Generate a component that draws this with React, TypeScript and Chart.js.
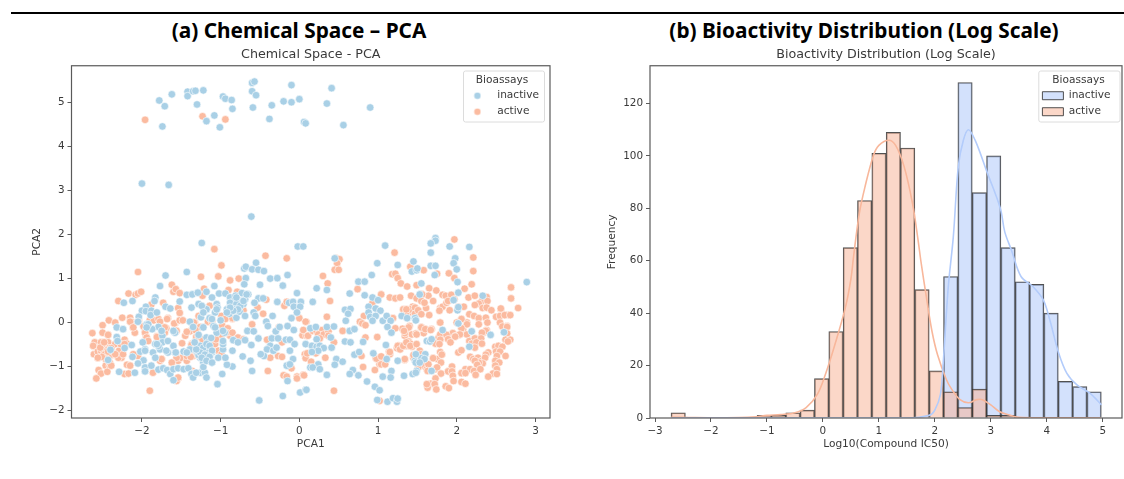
import React, { useEffect, useRef } from "react";
import { Chart, registerables } from "chart.js";

Chart.register(...registerables);

const seriesNames = ["inactive", "active"];

// PCA scatter: [PCA1, PCA2]
const inactiveTop: [number, number][] = [
  [-1.78,5.05],[-1.71,4.92],[-1.62,5.19],[-1.74,4.46],[-1.42,5.25],[-1.42,5.15],[-1.35,5.26],[-1.32,5.27],[-1.22,5.28],[-1.30,4.96],
  [-1.18,4.58],[-1.08,4.71],[-1.01,4.44],[-0.97,5.14],[-0.94,5.09],[-0.86,5.06],[-0.85,4.86],[-0.59,4.89],[-0.60,5.26],[-0.60,5.45],
  [-0.57,5.48],[-0.55,5.17],[-0.38,4.63],[-0.35,4.94],[-0.20,5.03],[-0.10,5.40],[-0.10,5.01],[0.0,5.08],[0.06,4.56],[0.08,4.53],
  [0.35,4.98],[0.41,5.33],[0.56,4.49],[0.90,4.89],[-2.0,3.16],[-1.66,3.13],[-0.61,2.41],
];
const inactiveLeft: [number, number][] = [
  [-1.70,1.07],[-1.43,1.15],[-1.77,0.83],[-2.23,0.45],[-2.12,0.49],[-1.83,0.57],[-1.84,0.49],[-1.52,0.48],[-1.43,0.63],[-1.36,0.64],
  [-1.95,0.36],[-2.0,0.27],[-1.95,0.26],[-1.88,0.27],[-1.89,0.17],[-1.81,0.23],[-1.70,0.36],[-1.64,0.32],[-2.04,0.13],[-2.05,0.02],
  [-2.32,-0.11],[-2.24,-0.15],[-2.32,-0.33],[-2.31,-0.42],[-1.94,-0.04],[-1.79,-0.10],[-1.87,-0.15],[-1.58,-0.23],[-1.39,0.02],[-1.35,-0.10],
  [-2.13,-0.51],[-1.99,-0.45],[-1.74,-0.30],[-1.83,-0.49],[-1.74,-0.45],[-1.67,-0.42],[-1.60,-0.53],[-1.96,-0.61],[-2.02,-0.66],[-1.86,-0.68],
  [-1.77,-0.61],[-1.67,-0.68],[-1.58,-0.68],[-1.47,-0.66],[-1.39,-0.61],[-2.22,-0.58],[-2.12,-0.78],[-1.98,-0.86],[-1.83,-0.80],[-2.05,-0.93],
  [-1.96,-1.02],[-1.96,-1.11],[-1.88,-0.98],[-1.79,-1.07],[-1.73,-1.04],[-1.68,-1.08],[-1.64,-1.17],[-1.60,-1.06],[-1.54,-1.04],[-1.47,-1.06],
  [-1.41,-1.04],[-1.60,-1.31],[-2.29,-1.12],[-2.09,-1.14],[-1.37,-1.17],[-2.43,-0.85],[-2.40,-0.62],
];
const inactiveMiddle: [number, number][] = [
  [-1.24,1.81],[-0.02,1.73],[0.05,1.73],[-0.55,1.36],[-0.70,1.23],[-0.68,1.27],[-0.60,1.21],[-0.52,1.20],[-0.45,1.17],[-0.15,1.08],
  [-0.37,1.0],[-0.28,1.01],[-0.68,1.01],[-0.50,0.86],[-0.21,0.84],[-0.03,0.67],[-1.08,0.83],[-0.70,0.87],[-1.29,0.68],[-1.18,0.70],
  [-1.11,0.57],[-1.02,0.66],[-0.94,0.66],[-0.88,0.57],[-0.81,0.61],[-0.73,0.67],[-0.65,0.64],[-0.83,0.49],[-0.88,0.45],[-0.75,0.49],
  [-0.69,0.53],[-0.80,0.42],[-0.71,0.42],[-0.52,0.55],[-0.46,0.55],[-0.57,0.45],[-0.28,0.47],[-0.13,0.45],[-0.08,0.47],[0.02,0.47],
  [-0.07,0.36],[0.01,0.36],[-0.03,0.23],[-1.28,0.42],[-1.37,0.34],[-1.22,0.34],[-1.18,0.29],[-1.07,0.23],[-1.05,0.42],[-1.04,0.34],
  [-0.92,0.30],[-0.89,0.20],[-0.82,0.30],[-0.80,0.11],[-0.76,0.25],[-0.69,0.15],[-0.58,0.23],[-0.56,0.15],[-0.34,0.15],[-0.10,0.10],
  [-0.42,0.02],[-0.40,-0.08],[-0.30,-0.20],[-0.25,-0.10],[-0.15,-0.08],[-0.07,-0.17],[-0.66,-0.19],[-0.58,-0.20],[-0.52,-0.36],[-0.35,-0.36],
  [-0.27,-0.36],[-0.17,-0.39],[-0.12,-0.39],[-0.06,-0.49],[-0.61,-0.51],[-0.84,-0.40],[-0.78,-0.45],[-0.69,-0.40],[-0.37,-0.53],[-0.41,-0.61],
  [-0.33,-0.64],[-0.45,-0.76],[-0.49,-0.72],[-0.29,-0.57],[-0.12,-0.64],[-0.85,-0.64],[-0.72,-0.77],[-0.62,-0.87],[-0.08,-0.83],[-0.16,-0.98],
  [-0.12,-0.95],[-0.60,-1.10],[-0.85,-1.0],[-0.92,-0.96],[-0.98,-1.17],[-1.04,-1.40],[-0.51,-1.77],[-0.21,-1.67],[0.01,-1.59],[0.08,-1.53],
  [-0.15,-1.33],[-1.26,-0.57],[-1.20,-0.57],[-1.16,-0.57],[-1.31,-0.64],[-1.24,-0.68],[-1.18,-0.68],[-1.11,-0.68],[-1.26,-0.80],[-1.20,-0.80],
  [-1.14,-0.76],[-1.28,-0.74],[-1.22,-0.91],[-1.11,-0.91],[-1.03,-0.80],[-0.94,-0.80],[-0.97,-0.61],[-0.97,-0.49],[-1.05,-0.23],[-1.09,-0.08],
  [-1.18,-0.34],[-1.35,-1.25],[-1.26,-1.14],[-1.20,-1.14],[-1.18,-1.25],[-1.22,-1.01],[-1.31,-1.14],[-1.16,-0.45],[-1.12,-0.35],[-1.28,-0.28],
  [-1.00,0.05],[-1.14,0.10],[-1.25,0.12],[-0.95,-0.23],
];
const inactiveDense: [number, number][] = [
  [-1.26,-0.53],[-1.22,-0.57],[-1.18,-0.49],[-1.14,-0.53],[-1.11,-0.64],[-1.26,-0.68],[-1.20,-0.73],[-1.14,-0.78],[-1.24,-0.80],[-1.18,-0.87],
  [-1.11,-0.91],[-1.31,-0.61],[-1.33,-0.45],[-1.43,-0.68],[-1.57,-0.68],[-1.69,-0.64],[-1.79,-0.53],[-1.92,-0.04],[-1.94,-0.11],[-1.96,-0.64],
  [-1.81,-0.49],[-1.75,-0.19],[-1.60,-0.19],[-0.75,0.38],[-0.78,0.30],[-0.84,0.27],[-0.88,0.34],[-0.71,0.49],[-0.80,0.57],[-0.67,0.64],
  [-0.92,0.23],[-1.05,0.30],[-1.18,0.30],[-1.24,0.38],[-1.22,0.23],[-1.11,0.08],[-0.97,-0.19],[-0.97,-0.42],[-1.07,-0.11],[-1.22,-0.11],
];
const inactiveRight: [number, number][] = [
  [1.09,1.75],[0.45,1.46],[0.99,1.35],[1.25,1.31],[1.45,1.39],[1.43,1.16],[1.49,1.19],[0.92,1.08],[0.75,0.93],[0.83,0.93],
  [0.22,0.78],[0.35,0.74],[0.64,0.66],[0.83,0.62],[0.17,0.47],[0.93,0.57],[1.0,0.51],[0.58,0.29],[0.65,0.31],[0.62,0.20],
  [0.88,0.36],[0.97,0.32],[1.03,0.27],[0.88,0.23],[0.90,0.13],[0.97,0.15],[0.59,0.04],[0.93,0.04],[1.06,0.04],[1.11,0.15],
  [1.16,0.04],[1.12,-0.10],[1.17,-0.23],[1.30,0.15],[1.37,0.10],[1.47,0.10],[0.64,-0.19],[0.70,-0.15],[0.14,-0.13],[0.21,-0.10],
  [0.35,-0.10],[0.44,-0.09],[0.40,-0.34],[0.22,-0.38],[0.58,-0.43],[0.65,-0.45],[0.81,-0.44],[0.08,-0.49],[0.16,-0.53],[0.22,-0.55],
  [0.26,-0.53],[0.31,-0.58],[0.41,-0.57],[0.24,-0.64],[0.16,-0.67],[0.70,-0.73],[0.76,-0.67],[0.94,-0.70],[1.10,-0.51],[0.47,-0.83],
  [0.55,-0.89],[0.45,-0.96],[0.24,-0.95],[0.14,-1.02],[0.17,-1.02],[0.26,-1.06],[0.35,-1.19],[0.68,-1.08],[0.64,-1.17],[0.75,-1.20],
  [0.86,-1.34],[1.06,-1.23],[1.17,-1.10],[1.16,-1.25],[0.96,-1.46],[1.02,-1.54],[0.09,-1.53],[0.99,-1.76],[1.12,-1.80],[1.19,-1.72],
  [1.24,-1.80],[1.25,-1.73],[1.11,-0.83],[1.25,-0.87],[1.33,-1.21],[1.47,-0.87],[1.44,-1.17],[1.49,-1.10],
  [1.73,1.92],[1.73,1.86],[1.67,1.80],[1.67,1.59],[1.91,1.73],[2.16,1.72],[1.98,1.46],[1.96,1.35],[2.0,1.21],[1.67,1.29],
  [1.73,1.29],[1.72,1.08],[1.50,1.23],[2.01,0.92],[2.89,0.92],[1.55,0.89],[1.53,0.64],[2.02,0.68],[1.96,0.51],[2.33,0.61],
  [2.01,0.28],[2.02,0.35],[1.48,0.05],[2.02,-0.02],[1.82,-0.17],[2.19,-0.20],[2.43,-0.28],[2.60,-0.22],[1.62,-0.42],[1.66,-0.43],
  [1.68,-0.38],[2.16,-0.55],[1.60,-0.72],[1.55,-0.81],[1.59,-0.83],[1.48,-0.91],[1.53,-0.91],[1.68,-1.10],[1.48,-1.14],[1.48,-0.72],
];
const activeTop: [number, number][] = [[-1.96,4.61],[-1.23,4.69],[-0.94,4.62]];
const activeLeft: [number, number][] = [
  [-2.05,1.15],[-2.17,0.66],[-2.08,0.63],[-2.05,0.66],[-2.01,0.70],[-2.30,0.49],[-1.62,0.86],[-1.60,0.70],[-1.57,0.76],[-1.52,0.67],
  [-1.88,0.41],[-1.73,0.45],[-1.54,0.33],[-1.52,0.22],[-2.25,0.11],[-2.15,0.11],[-2.42,0.05],[-2.34,0.0],[-2.50,-0.06],[-2.13,0.02],
  [-2.04,0.04],[-1.90,0.06],[-1.85,0.05],[-1.79,0.08],[-1.77,0.02],[-1.67,0.10],[-1.58,-0.02],[-1.50,0.05],[-2.63,-0.24],[-2.43,-0.27],
  [-2.50,-0.23],[-2.11,-0.12],[-1.98,-0.09],[-1.96,-0.20],[-2.09,-0.23],[-1.95,-0.30],[-1.81,-0.31],[-1.69,-0.13],[-1.71,-0.23],[-1.45,-0.30],
  [-1.39,-0.20],[-1.49,-0.47],[-2.22,-0.39],[-2.19,-0.48],[-2.60,-0.45],[-2.62,-0.53],[-2.52,-0.45],[-2.43,-0.45],[-2.34,-0.49],[-2.47,-0.55],
  [-2.42,-0.58],[-2.61,-0.72],[-2.56,-0.66],[-2.52,-0.64],[-2.48,-0.66],[-2.44,-0.63],[-2.39,-0.64],[-2.35,-0.73],[-2.29,-0.64],[-2.26,-0.80],
  [-2.56,-0.81],[-2.49,-0.78],[-2.41,-0.76],[-2.30,-0.80],[-2.19,-0.96],[-2.15,-0.98],[-2.46,-0.98],[-2.41,-0.98],[-2.55,-1.08],[-2.52,-1.16],
  [-2.44,-1.12],[-2.58,-1.27],[-2.22,-1.17],[-2.17,-1.16],[-1.90,-1.55],[-1.86,-1.14],[-2.05,-0.76],[-2.11,-0.72],[-1.75,-0.83],[-1.77,-0.87],
  [-1.62,-0.92],[-1.54,-0.87],[-1.50,-0.80],[-1.54,-1.27],[-1.56,-1.33],[-1.36,-1.10],[-1.37,-0.49],[-1.35,-0.76],[-1.43,-0.87],
];
const activeDense: [number, number][] = [
  [-2.47,-0.72],[-2.43,-0.66],[-2.39,-0.58],[-2.34,-0.72],[-2.46,-0.83],[-2.41,-0.91],[-2.39,-0.98],[-2.51,-0.78],[-2.56,-0.80],[-2.53,-0.57],
  [-2.48,-0.45],[-2.43,-0.28],[-2.24,-0.72],[-2.27,-0.49],[-2.22,-0.49],[-2.15,0.02],[-2.11,-0.11],[-1.96,-0.23],[-1.94,-0.34],[-1.92,-0.42],
  [-1.81,-0.33],[-1.71,-0.11],[-1.68,0.08],[-1.59,-0.02],[-1.52,0.05],[-1.48,0.05],[-1.56,-0.19],[-1.43,-0.21],[-1.36,-0.49],[-1.33,0.0],
  [-1.28,0.15],[-1.16,0.02],[-1.31,-0.33],[-1.22,-0.42],[-1.56,-0.80],[-1.43,-0.76],[-1.35,-0.68],[-1.75,-0.83],[-1.62,-0.91],[-1.54,-1.25],
  [-1.36,-1.15],[-1.07,-0.49],[-0.88,-0.30],[-0.99,-0.30],[-0.85,0.08],
  [1.32,0.30],[1.44,0.36],[1.51,0.28],[1.40,0.23],[1.34,-0.15],[1.31,-0.14],[1.40,-0.08],[1.36,-0.23],[1.34,-0.30],[1.43,-0.27],
  [1.48,-0.25],[1.58,-0.24],[1.55,-0.11],[1.68,-0.15],[1.39,-0.43],[1.26,-0.52],[1.29,-0.57],[1.32,-0.53],[1.36,-0.53],[1.41,-0.48],
  [1.43,-0.55],[1.24,-0.58],[1.14,-0.66],[1.15,-0.72],[1.03,-0.80],[0.97,-0.80],[1.02,-0.95],[1.08,-0.95],[1.10,-0.87],[1.34,-0.85],
  [1.45,-0.80],[1.58,-0.98],[1.62,-1.06],[1.73,-1.06],[1.81,-0.72],[1.70,-0.80],[1.75,-0.83],[1.74,-0.45],[1.79,0.0],[1.77,-0.34],
  [1.85,-0.28],[1.95,-0.24],[1.98,-0.31],[2.03,-0.28],[2.06,0.08],[2.13,0.0],[2.08,-0.15],[2.17,-0.42],[2.23,-0.38],[2.30,-0.36],
  [2.34,-0.23],[2.38,-0.17],[2.51,0.13],[2.61,0.17],[2.66,0.17],[2.56,0.30],[2.59,-0.10],[2.64,-0.08],
];
const activeMiddle: [number, number][] = [
  [-1.08,1.67],[-0.43,1.52],[-0.16,1.46],[-0.99,1.30],[-1.25,1.04],[-1.03,1.05],[-0.88,0.96],[-0.77,1.0],[-1.21,0.77],[-0.90,0.74],
  [-0.79,0.70],[-1.23,0.61],[-1.14,0.38],[-0.42,0.52],[-0.53,0.34],[-0.46,0.20],[-0.19,0.38],[-0.16,0.47],[0.0,0.10],[0.09,0.02],
  [-0.99,0.15],[-0.94,0.08],[-0.85,0.10],[-0.71,0.28],[-0.60,-0.04],[-1.16,0.02],[-1.11,0.02],[-1.34,0.0],[-1.26,-0.10],[-1.32,-0.17],
  [-0.98,-0.07],[-0.91,-0.13],[-0.93,-0.23],[-0.85,-0.23],[-0.99,-0.30],[-1.06,-0.38],[-0.78,-0.34],[-0.71,-0.38],[-1.28,-0.32],[-1.23,-0.39],
  [-1.37,-0.51],[-1.35,-0.63],[-1.38,-0.78],[-1.03,-0.64],[-0.99,-0.72],[-0.41,-0.39],[-0.26,-0.11],[-0.22,-0.45],[-0.37,-0.80],[-0.27,-0.76],
  [-0.22,-0.78],[-0.40,-1.10],[-0.10,-1.04],[-0.20,-1.20],[-0.16,-1.23],[-0.03,-1.23],[-0.03,-1.27],[0.05,-1.19],[-1.36,-1.15],[0.04,-0.29],
  [0.09,-0.30],[0.07,-0.72],[0.08,-0.81],
];
const activeRight: [number, number][] = [
  [1.21,1.59],[0.47,1.46],[0.51,1.44],[0.48,1.35],[0.45,1.20],[0.50,1.20],[0.30,1.06],[0.36,0.89],[0.39,0.49],[0.74,0.76],
  [1.04,0.64],[1.18,1.10],[1.22,1.11],[1.25,1.01],[1.29,0.89],[1.37,0.82],[1.41,1.27],[1.49,0.85],[0.93,0.45],[1.15,0.57],
  [1.22,0.55],[1.28,0.57],[1.42,0.61],[1.49,0.55],[0.82,0.15],[0.77,0.02],[0.80,-0.02],[0.84,-0.06],[0.35,0.13],[0.08,0.02],
  [0.05,-0.17],[0.11,-0.30],[0.17,-0.19],[0.22,-0.20],[0.29,-0.17],[0.24,-0.27],[0.31,-0.27],[0.37,-0.20],[0.37,-0.30],[0.26,-0.36],
  [0.44,-0.45],[0.55,-0.19],[0.84,-0.34],[0.99,-0.33],[0.10,-0.70],[0.21,-0.70],[0.33,-0.80],[0.15,-0.89],[0.06,-1.20],[0.44,-1.55],
  [0.79,-0.76],[0.81,-1.01],[0.96,-1.08],[0.98,-0.82],[1.04,-0.77],[1.04,-0.95],[1.09,-0.95],[1.15,-0.67],[1.34,-0.83],[1.45,-0.74],
  [1.22,-0.13],[1.19,0.10],[1.25,-0.53],[1.28,-0.61],[1.32,-0.53],[1.36,-0.45],[1.41,-0.53],[1.49,-0.49],[1.34,-0.24],[1.39,-0.11],
  [1.33,-0.19],[1.36,0.23],[1.41,0.30],[1.47,0.34],[1.36,0.30],[1.47,0.20],[1.02,-1.78],
  [1.97,1.89],[2.21,1.48],[2.21,1.17],[1.58,1.19],[1.75,1.11],[1.90,1.12],[1.97,1.01],[2.19,0.87],[2.10,0.77],[2.69,0.80],
  [2.69,0.55],[2.78,0.33],[1.65,0.78],[1.74,0.73],[1.64,0.61],[1.56,0.64],[1.82,0.63],[1.86,0.61],[1.93,0.63],[1.55,0.49],
  [1.70,0.49],[1.61,0.33],[1.59,0.45],[1.65,0.17],[1.51,0.28],[1.55,0.19],[2.15,0.57],[2.23,0.61],[2.38,0.58],[2.32,0.49],
  [2.39,0.49],[2.28,0.43],[2.23,0.40],[1.79,0.33],[1.82,0.36],[1.87,0.45],[1.89,0.49],[1.91,0.28],[1.97,0.53],[2.02,0.36],
  [2.09,0.36],[1.78,0.27],[2.33,0.33],[2.38,0.34],[2.44,0.28],[2.56,0.32],[2.50,0.13],[2.55,0.15],[2.61,0.17],[2.68,0.17],
  [2.16,0.19],[2.22,0.15],[2.28,0.10],[2.37,0.11],[2.39,0.0],[2.28,-0.04],[2.06,0.08],[2.0,0.0],[2.13,-0.04],[2.06,-0.13],
  [1.79,0.0],[2.55,0.0],[2.58,-0.09],[2.64,-0.10],[2.37,-0.19],[2.32,-0.23],[2.13,-0.27],[2.04,-0.27],[1.98,-0.32],[1.55,-0.11],
  [1.60,-0.15],[1.67,-0.17],[1.49,-0.27],[1.79,-0.27],[1.87,-0.28],[1.89,-0.38],[1.79,-0.39],[1.73,-0.48],[1.78,-0.49],[1.92,-0.45],
  [2.64,-0.25],[2.62,-0.39],[2.68,-0.39],[2.65,-0.43],[2.16,-0.42],[2.23,-0.36],[2.31,-0.36],[2.19,-0.48],[2.25,-0.45],[2.32,-0.48],
  [2.23,-0.57],[2.49,-0.55],[2.53,-0.53],[2.58,-0.55],[2.50,-0.66],[2.55,-0.66],[2.02,-0.68],[2.06,-0.63],[1.79,-0.67],[1.81,-0.73],
  [2.62,-0.76],[2.51,-0.76],[2.40,-0.68],[2.37,-0.73],[2.17,-0.78],[2.21,-0.83],[2.27,-0.80],[2.32,-0.87],[2.36,-0.80],[2.33,-0.93],
  [2.28,-0.91],[2.23,-0.87],[2.26,-0.96],[1.70,-0.81],[1.80,-0.91],[1.75,-1.02],[1.64,-0.95],[1.53,-0.64],[1.55,-0.72],[1.94,-1.0],
  [2.49,-0.87],[2.54,-0.91],[2.49,-0.98],[2.51,-1.06],[2.46,-1.16],[2.51,-1.17],[2.40,-1.23],[2.11,-1.06],[2.17,-1.06],[2.22,-1.10],
  [2.30,-1.06],[2.06,-1.15],[2.11,-1.15],[2.24,-1.19],[1.89,-1.11],[1.94,-1.11],[1.95,-1.21],[1.96,-1.33],[1.80,-1.16],[1.73,-1.27],
  [1.63,-1.10],[2.06,-1.35],[2.11,-1.39],[1.86,-1.45],[1.90,-1.49],[1.67,-1.39],[1.63,-1.48],[1.72,-1.40],[1.74,-1.52],[1.62,-1.40],
  [1.49,-0.87],[1.51,-1.02],
];
const inactivePCA = [...inactiveTop, ...inactiveLeft, ...inactiveMiddle, ...inactiveDense, ...inactiveRight];
const activePCA = [...activeTop, ...activeLeft, ...activeDense, ...activeMiddle, ...activeRight];

// Histogram of Log10(Compound IC50): 30 bins
const binStart = -2.714;
const binWidth = 0.2563;
const inactiveCounts = [0,0,0,0,0,0,0,0,0,0,0,0,0,0,0,0,0,0,0,54,128,86,100,65,52,51,40,14,12,10];
const activeCounts = [2,0,0,0,0,0,1,1,2,3,15,33,65,83,101,109,103,49,18,10,4,11,1,1,0,0,0,0,0,0];
const inactiveKdeX = [-2.71,1.5,1.9,2.0,2.1,2.15,2.24,2.33,2.42,2.51,2.6,2.72,2.93,3.17,3.25,3.37,3.54,3.76,3.94,4.06,4.21,4.36,4.54,4.77,4.98];
const inactiveKdeY = [0,0,1,3,9,21,50,69,96,106,110,106,94,80,71,64,54,50,45,37,25,17,12.6,9.5,5];
const activeKdeX = [-2.71,-2.4,-2,-1.5,-1.2,-1,-0.75,-0.5,-0.3,-0.1,0.05,0.2,0.4,0.5,0.55,0.65,0.75,0.9,1,1.18,1.3,1.45,1.6,1.7,1.75,1.85,1.95,2.05,2.2,2.3,2.45,2.6,2.75,2.85,3,3.15,3.35,3.5,4,4.97];
const activeKdeY = [0.3,0.2,0.1,0.2,0.5,1,1.3,2,4,9,17,27,42,53,62,78,88,100,104,106,104,96,82,68,60,46,33,24,15,11,7,5.8,7,7,5,2.5,1,0.3,0.1,0];

const pcaXTicks = [-2,-1,0,1,2,3];
const pcaYTicks = [-2,-1,0,1,2,3,4,5];
const histXTicks = [-3,-2,-1,0,1,2,3,4,5];
const histYTicks = [0,20,40,60,80,100,120];

const FONT = "'DejaVu Sans'";
const INK = "#3a3a3a";
const SPINE = "#5a5a5a";
const BLUE_DOT = "#a9d0e6";
const ORANGE_DOT = "#fbbba0";
const BLUE_FILL = "rgba(174,201,250,0.55)";
const ORANGE_FILL = "rgba(248,183,155,0.55)";
const BLUE_LINE = "#b3ccfb";
const ORANGE_LINE = "#f8b79b";
const EDGE = "rgba(50,50,50,0.85)";

const minusLabel = (v: number | string) => String(v).replace("-", "\u2212");

function dot(color: string) {
  const c = document.createElement("canvas");
  c.width = 8;
  c.height = 8;
  const g = c.getContext("2d")!;
  g.fillStyle = color;
  g.beginPath();
  g.arc(4, 4, 3.2, 0, Math.PI * 2);
  g.fill();
  return c;
}

function framePlugin(box: { left: number; top: number; right: number; bottom: number }, legendX: number, legendY: number, titleCentre: number) {
  return {
    id: "frame",
    afterLayout(chart: any) {
      const l = chart.legend;
      l.left = legendX;
      l.width = 2 * (titleCentre - legendX);
      l.right = legendX + l.width;
      l.top = legendY;
      l.bottom = legendY + l.height;
    },
    beforeDraw(chart: any) {
      const g = chart.ctx;
      g.save();
      g.strokeStyle = "#dcdcdc";
      g.lineWidth = 1;
      g.beginPath();
      g.roundRect(box.left, box.top, box.right - box.left, box.bottom - box.top, 2);
      g.stroke();
      g.restore();
    },
    afterDraw(chart: any) {
      const a = chart.chartArea;
      const g = chart.ctx;
      g.save();
      g.strokeStyle = SPINE;
      g.lineWidth = 1.2;
      g.strokeRect(a.left, a.top, a.right - a.left, a.bottom - a.top);
      g.restore();
    },
  };
}

function axis(title: string, min: number, max: number, values: number[], size: number, pads: any) {
  return {
    type: "linear",
    min,
    max,
    offset: false,
    border: { display: false },
    grid: { drawOnChartArea: false, drawTicks: true, tickLength: 4, tickColor: SPINE, tickWidth: 1, offset: false },
    ticks: { color: INK, font: { family: FONT, size: 10.4 }, padding: 3, maxRotation: 0, autoSkip: false, callback: minusLabel },
    title: { display: true, text: title, color: INK, font: { family: FONT, size: 10.6 }, padding: pads },
    afterBuildTicks: (s: any) => {
      s.ticks = values.map((value) => ({ value }));
    },
    afterFit: (s: any) => {
      if (s.axis === "x") s.height = size;
      else s.width = size;
    },
  };
}

function titleOpts(text: string) {
  return {
    display: true,
    text,
    fullSize: false,
    color: INK,
    font: { family: FONT, size: 12.7, weight: "normal" },
    padding: { top: 47, bottom: 3.5 },
  };
}

function legendOpts(labels: any) {
  return {
    display: true,
    position: "chartArea",
    align: "start",
    title: { display: true, text: "Bioassays", color: INK, font: { family: FONT, size: 10.6 }, padding: { top: 4.4, bottom: -2.4 } },
    labels: { color: INK, font: { family: FONT, size: 10.6 }, padding: 5.4, ...labels },
  };
}

const binCentres = activeCounts.map((_, i) => binStart + binWidth * (i + 0.5));

export default function App() {
  const leftRef = useRef<HTMLCanvasElement>(null);
  const rightRef = useRef<HTMLCanvasElement>(null);

  useEffect(() => {
    const markers = [dot(BLUE_DOT), dot(ORANGE_DOT)];
    const left = new Chart(leftRef.current!, {
      type: "scatter",
      data: {
        datasets: [
          { label: seriesNames[0], data: inactivePCA.map(([x, y]) => ({ x, y })), backgroundColor: BLUE_DOT, borderColor: "#fff", borderWidth: 0.6, pointRadius: 3.8 },
          { label: seriesNames[1], data: activePCA.map(([x, y]) => ({ x, y })), backgroundColor: ORANGE_DOT, borderColor: "#fff", borderWidth: 0.6, pointRadius: 3.8 },
        ],
      },
      options: {
        responsive: false,
        animation: false,
        layout: { padding: { right: 20, left: 0, top: 0, bottom: 0 } },
        scales: {
          x: axis("PCA1", -2.895, 3.185, pcaXTicks, 61, { top: 0, bottom: 28 }),
          y: axis("PCA2", -2.17, 5.84, pcaYTicks, 71.5, { top: 31, bottom: 0 }),
        } as any,
        plugins: {
          title: titleOpts("Chemical Space - PCA"),
          legend: legendOpts({
            usePointStyle: true,
            pointStyleWidth: 29,
            boxHeight: 8,
            generateLabels: (chart: any) =>
              Chart.defaults.plugins.legend.labels.generateLabels(chart).map((item: any, i: number) => ({ ...item, pointStyle: markers[i] })),
          }),
          tooltip: { enabled: false },
        },
      } as any,
      plugins: [framePlugin({ left: 463.5, top: 71, right: 544.5, bottom: 122 }, 457.5, 70.3, 502)],
    });

    const right = new Chart(rightRef.current!, {
      type: "bar",
      data: {
        datasets: [
          { type: "line", label: "inactive KDE", data: inactiveKdeX.map((x, i) => ({ x, y: inactiveKdeY[i] })), borderColor: BLUE_LINE, borderWidth: 1.6, pointRadius: 0, tension: 0.35, order: 1 },
          { type: "line", label: "active KDE", data: activeKdeX.map((x, i) => ({ x, y: activeKdeY[i] })), borderColor: ORANGE_LINE, borderWidth: 1.6, pointRadius: 0, tension: 0.35, order: 1 },
          { type: "bar", label: seriesNames[0], data: binCentres.map((x, i) => ({ x, y: inactiveCounts[i] })), backgroundColor: BLUE_FILL, borderColor: EDGE, borderWidth: 1, grouped: false, barPercentage: 1, categoryPercentage: 1, order: 3 },
          { type: "bar", label: seriesNames[1], data: binCentres.map((x, i) => ({ x, y: activeCounts[i] })), backgroundColor: ORANGE_FILL, borderColor: EDGE, borderWidth: 1, grouped: false, barPercentage: 1, categoryPercentage: 1, order: 2 },
        ],
      },
      options: {
        responsive: false,
        animation: false,
        layout: { padding: { right: 2, left: 0, top: 0, bottom: 0 } },
        scales: {
          x: axis("Log10(Compound IC50)", -3.09, 5.345, histXTicks, 61, { top: 0, bottom: 28 }),
          y: axis("Frequency", 0, 134.4, histYTicks, 80, { top: 36, bottom: 0 }),
        } as any,
        plugins: {
          title: titleOpts("Bioactivity Distribution (Log Scale)"),
          legend: legendOpts({
            boxWidth: 21,
            boxHeight: 8,
            filter: (item: any) => seriesNames.includes(item.text),
            sort: (a: any, b: any) => seriesNames.indexOf(a.text) - seriesNames.indexOf(b.text),
          }),
          tooltip: { enabled: false },
        },
      } as any,
      plugins: [framePlugin({ left: 468.8, top: 71, right: 550, bottom: 122 }, 467, 70.3, 508.6)],
    });

    return () => {
      left.destroy();
      right.destroy();
    };
  }, []);

  const heading: React.CSSProperties = {
    position: "absolute",
    top: 18,
    fontFamily: "'Noto Sans', sans-serif",
    fontWeight: 700,
    fontSize: 20.8,
    lineHeight: "24px",
    color: "#000",
    whiteSpace: "nowrap",
    transform: "translateX(-50%)",
  };

  return (
    <div style={{ position: "fixed", left: 0, top: 0, width: 1124, height: 479, background: "#fff", overflow: "hidden" }}>
      <div style={{ position: "absolute", left: 11, right: 0, top: 12, height: 2, background: "#000" }} />
      <div style={{ ...heading, left: 299 }}>(a) Chemical Space – PCA</div>
      <div style={{ ...heading, left: 864 }}>(b) Bioactivity Distribution (Log Scale)</div>
      <div style={{ position: "absolute", left: 0, top: 0, width: 1124, height: 479, filter: "blur(0.5px)" }}>
        <canvas ref={leftRef} width={570} height={479} style={{ position: "absolute", left: 0, top: 0 }} />
        <canvas ref={rightRef} width={554} height={479} style={{ position: "absolute", left: 570, top: 0 }} />
      </div>
    </div>
  );
}
